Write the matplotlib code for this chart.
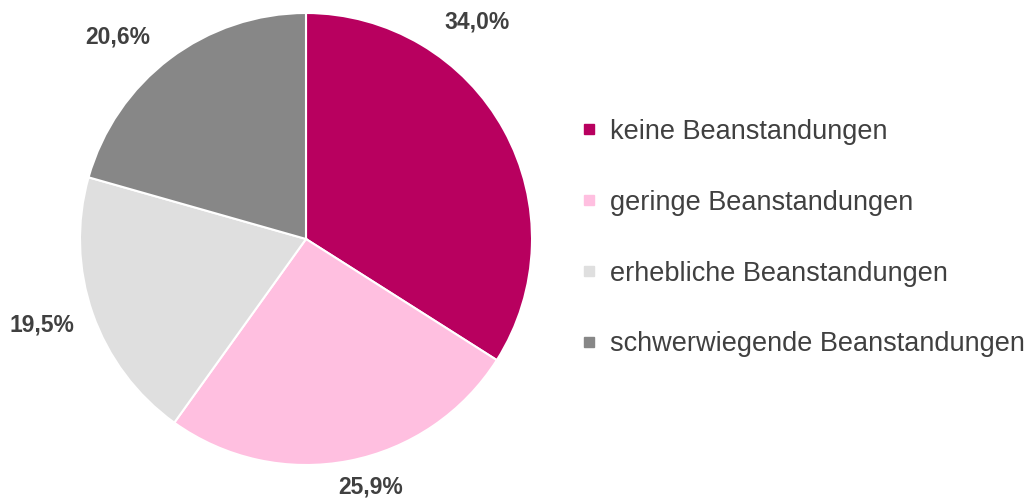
import matplotlib.pyplot as plt
from matplotlib.lines import Line2D

plt.rcParams['font.family'] = ['Liberation Sans', 'DejaVu Sans']

categories = ['keine Beanstandungen', 'geringe Beanstandungen',
              'erhebliche Beanstandungen', 'schwerwiegende Beanstandungen']
values = [34.0, 25.9, 19.5, 20.6]
value_labels = ['34,0%', '25,9%', '19,5%', '20,6%']
colors = ['#B8005F', '#FFBFE0', '#DFDFDF', '#878787']
# Label positions (in units of pie radius, relative to centre)
label_pos = [(0.757, 0.960), (0.288, -1.097), (-1.168, -0.381), (-0.832, 0.894)]

fig = plt.figure(figsize=(10.26, 4.99), dpi=100)
cx, cy, r = 306, 499 - 239, 226
ax = fig.add_axes([(cx - r) / 1026, (cy - r) / 499, 2 * r / 1026, 2 * r / 499])

ax.pie(values, colors=colors, startangle=90, counterclock=False,
       wedgeprops=dict(edgecolor='white', linewidth=1.5), radius=1)
ax.set_xlim(-1, 1)
ax.set_ylim(-1, 1)
ax.set_aspect('equal')

for txt, (x, y) in zip(value_labels, label_pos):
    ax.text(x, y, txt, ha='center', va='center', fontsize=16.5,
            fontweight='bold', color='#404040', clip_on=False)

handles = [Line2D([], [], marker='s', linestyle='none', markersize=7,
                  markerfacecolor=c, markeredgecolor=c) for c in colors]
fig.legend(handles, categories, loc='center left', bbox_to_anchor=(556 / 1026, 0.523),
           frameon=False, fontsize=19.5, labelcolor='#404040',
           handlelength=0.6, handletextpad=0.5, labelspacing=1.66)

fig.savefig('out.png', dpi=100)
